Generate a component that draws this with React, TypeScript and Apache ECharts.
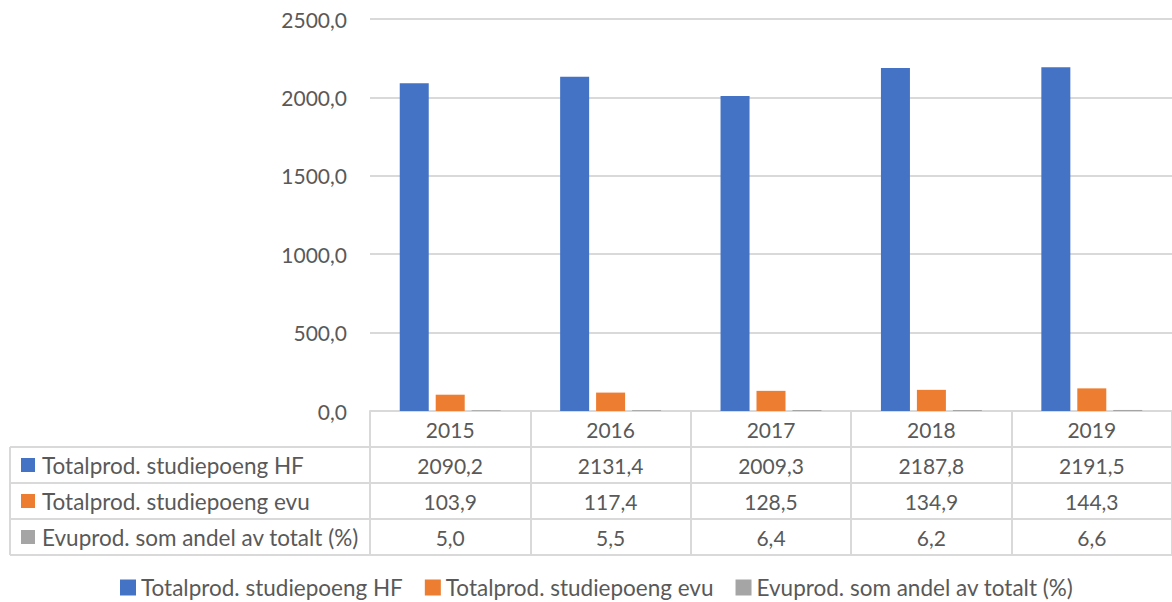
import React, { useEffect, useRef } from "react";
import * as echarts from "echarts";

const years = ["2015", "2016", "2017", "2018", "2019"];
const seriesNames = [
  "Totalprod. studiepoeng HF",
  "Totalprod. studiepoeng evu",
  "Evuprod. som andel av totalt (%)",
];
const hfValues = [2090.2, 2131.4, 2009.3, 2187.8, 2191.5];
const evuValues = [103.9, 117.4, 128.5, 134.9, 144.3];
const shareValues = [5.0, 5.5, 6.4, 6.2, 6.6];
const colors = ["#4472c4", "#ed7d31", "#a5a5a5"];
const yTicks = { min: 0, max: 2500, interval: 500 };

const FONT = "Lato";
const TEXT = "#595959";
const LINE = "#d9d9d9";

const fmt = (v: number) => v.toFixed(1).replace(".", ",");

export default function App() {
  const ref = useRef<HTMLDivElement>(null);
  useEffect(() => {
    if (!ref.current) return;
    const chart = echarts.init(ref.current, undefined, { renderer: "svg" });
    const gridLeft = 370;
    const gridTop = 19;
    const gridH = 392;
    const gridW = 808;
    const rowH = 36;
    const tableTop = gridTop + gridH;
    const allSeries = [hfValues, evuValues, shareValues];

    const graphics: any[] = [];
    for (let r = 1; r <= 4; r++) {
      graphics.push({
        type: "line",
        shape: { x1: 10, y1: tableTop + r * rowH, x2: 1172, y2: tableTop + r * rowH },
        style: { stroke: LINE, lineWidth: 2 },
        silent: true,
      });
    }
    graphics.push({
      type: "line",
      shape: { x1: 10, y1: tableTop + rowH, x2: 10, y2: tableTop + 4 * rowH },
      style: { stroke: LINE, lineWidth: 2 },
      silent: true,
    });
    seriesNames.forEach((name, i) => {
      const cy = tableTop + rowH * (i + 1) + rowH / 2;
      graphics.push({
        type: "rect",
        shape: { x: 21, y: cy - 7, width: 14, height: 14 },
        style: { fill: colors[i] },
        silent: true,
      });
      graphics.push({
        type: "text",
        x: 42,
        y: cy,
        style: {
          text: name,
          fill: TEXT,
          font: `22.5px ${FONT}`,
          verticalAlign: "middle",
          align: "left",
        },
        silent: true,
      });
    });

    chart.setOption({
      animation: false,
      textStyle: { fontFamily: FONT },
      grid: { left: gridLeft, top: gridTop, width: gridW, height: gridH, containLabel: false },
      legend: {
        data: seriesNames,
        left: 115,
        top: 571,
        itemWidth: 16,
        itemHeight: 16,
        itemGap: 22,
        icon: "rect",
        textStyle: { color: TEXT, fontSize: 22.5, fontFamily: FONT },
      },
      xAxis: {
        type: "category",
        data: years,
        axisLine: { show: true, lineStyle: { color: LINE, width: 2 } },
        axisTick: { show: true, length: rowH * 4, lineStyle: { color: LINE, width: 2 }, interval: 0 },
        axisLabel: {
          interval: 0,
          margin: 0,
          color: TEXT,
          fontSize: 21,
          fontFamily: FONT,
          lineHeight: rowH,
          formatter: (v: string, idx: number) =>
            [v, ...allSeries.map((s) => fmt(s[idx]))].join("\n"),
        },
      },
      yAxis: {
        type: "value",
        min: yTicks.min,
        max: yTicks.max,
        interval: yTicks.interval,
        axisLine: { show: false },
        axisTick: { show: false },
        axisLabel: { color: TEXT, fontSize: 21, fontFamily: FONT, margin: 23, formatter: (v: number) => fmt(v) },
        splitLine: { lineStyle: { color: LINE, width: 2 } },
      },
      series: seriesNames.map((name, i) => ({
        name,
        type: "bar",
        data: allSeries[i],
        barWidth: 29,
        barGap: "24%",
        itemStyle: { color: colors[i] },
      })),
      graphic: graphics,
    });
    return () => chart.dispose();
  }, []);
  return (
    <div
      ref={ref}
      style={{ position: "fixed", left: 0, top: 0, width: 1172, height: 602, background: "#fff" }}
    />
  );
}
